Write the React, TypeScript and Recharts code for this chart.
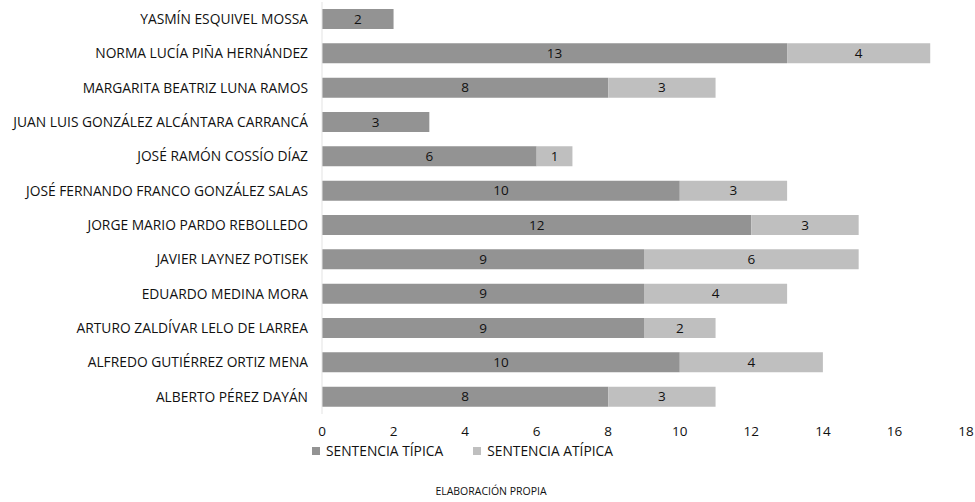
import { BarChart, Bar, XAxis, YAxis, LabelList } from "recharts";

const ministros = [
  "YASMÍN ESQUIVEL MOSSA",
  "NORMA LUCÍA PIÑA HERNÁNDEZ",
  "MARGARITA BEATRIZ LUNA RAMOS",
  "JUAN LUIS GONZÁLEZ ALCÁNTARA CARRANCÁ",
  "JOSÉ RAMÓN COSSÍO DÍAZ",
  "JOSÉ FERNANDO FRANCO GONZÁLEZ SALAS",
  "JORGE MARIO PARDO REBOLLEDO",
  "JAVIER LAYNEZ POTISEK",
  "EDUARDO MEDINA MORA",
  "ARTURO ZALDÍVAR LELO DE LARREA",
  "ALFREDO GUTIÉRREZ ORTIZ MENA",
  "ALBERTO PÉREZ DAYÁN",
];
const tipica = [2, 13, 8, 3, 6, 10, 12, 9, 9, 9, 10, 8];
const atipica = [0, 4, 3, 0, 1, 3, 3, 6, 4, 2, 4, 3];
const xTicks = [0, 2, 4, 6, 8, 10, 12, 14, 16, 18];

const data = ministros.map((name, i) => ({
  name,
  tipica: tipica[i],
  atipica: atipica[i] || null,
}));

const FONT = "'Open Sans', sans-serif";
const DARK = "#939393";
const LIGHT = "#bfbfbf";
const TEXT = "#111";

// nombres en una sola linea, sin cortar
const NameTick = (props: any) => {
  const { x, y, payload } = props;
  return (
    <text x={x} y={y} dy="0.36em" textAnchor="end" fill={TEXT} fontSize={13.8} fontFamily={FONT}>
      {payload.value}
    </text>
  );
};

export default function App() {
  return (
    <div style={{ position: "absolute", left: 0, top: 0, width: 975, height: 502, fontFamily: FONT, background: "#fff" }}>
      <BarChart
        width={975}
        height={502}
        data={data}
        layout="vertical"
        margin={{ top: 2, right: 9, bottom: 58, left: 0 }}
        barSize={20}
      >
        <XAxis
          type="number"
          domain={[0, 18]}
          ticks={xTicks}
          axisLine={false}
          tickLine={false}
          tickSize={0}
          tickMargin={12}
          height={30}
          tick={{ fill: TEXT, fontSize: 13.5, fontFamily: FONT }}
        />
        <YAxis
          type="category"
          dataKey="name"
          width={322}
          axisLine={{ stroke: "#e3e3e3" }}
          tickLine={false}
          tickSize={0}
          tickMargin={14}
          interval={0}
          tick={<NameTick />}
        />
        <Bar dataKey="tipica" stackId="a" fill={DARK} isAnimationActive={false}>
          <LabelList dataKey="tipica" position="center" fill={TEXT} fontSize={13.5} fontFamily={FONT} />
        </Bar>
        <Bar dataKey="atipica" stackId="a" fill={LIGHT} isAnimationActive={false}>
          <LabelList dataKey="atipica" position="center" fill={TEXT} fontSize={13.5} fontFamily={FONT} />
        </Bar>
      </BarChart>
      <div style={{ position: "absolute", top: 441, left: 312, display: "flex", alignItems: "center", fontSize: 13.8, color: TEXT }}>
        <span style={{ width: 8, height: 8, background: DARK, marginRight: 6 }} />
        <span style={{ marginRight: 30 }}>SENTENCIA TÍPICA</span>
        <span style={{ width: 8, height: 8, background: LIGHT, marginRight: 6 }} />
        <span>SENTENCIA ATÍPICA</span>
      </div>
      <div style={{ position: "absolute", top: 484, left: 0, width: 982, textAlign: "center", fontSize: 10.5, color: TEXT }}>
        ELABORACIÓN PROPIA
      </div>
    </div>
  );
}
